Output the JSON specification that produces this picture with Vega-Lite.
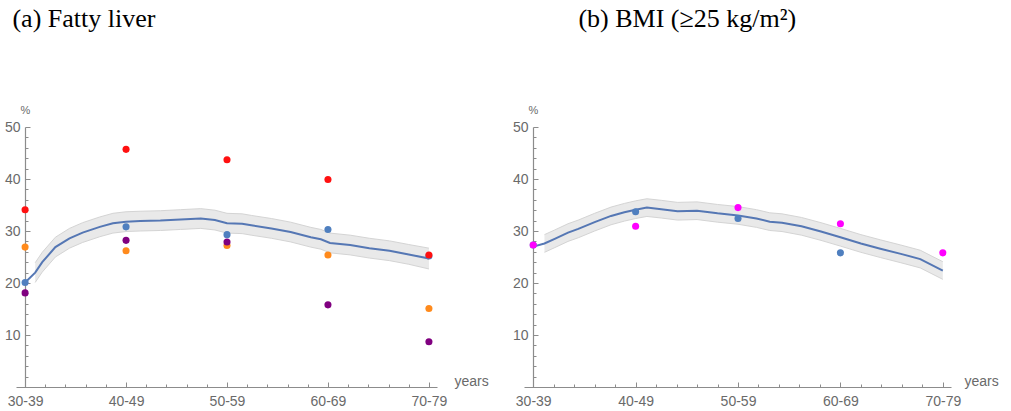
{
  "$schema": "https://vega.github.io/schema/vega-lite/v6.json",
  "background": "white",
  "padding": {"left": 4, "top": 6, "right": 0, "bottom": 0},
  "spacing": 23,
  "datasets": {
    "lineA": [
      {"u": 0, "y": 20.1, "lo": null, "hi": null},
      {"u": 0.1, "y": 22.0, "lo": 20.1, "hi": 23.9},
      {"u": 0.17, "y": 24.0, "lo": 22.1, "hi": 25.9},
      {"u": 0.3, "y": 26.9, "lo": 25.0, "hi": 28.8},
      {"u": 0.44, "y": 28.6, "lo": 26.7, "hi": 30.5},
      {"u": 0.57, "y": 29.7, "lo": 27.8, "hi": 31.6},
      {"u": 0.74, "y": 30.8, "lo": 28.9, "hi": 32.7},
      {"u": 0.87, "y": 31.5, "lo": 29.6, "hi": 33.4},
      {"u": 1.0, "y": 31.8, "lo": 29.9, "hi": 33.7},
      {"u": 1.14, "y": 31.9, "lo": 30.0, "hi": 33.8},
      {"u": 1.34, "y": 32.0, "lo": 30.1, "hi": 33.9},
      {"u": 1.54, "y": 32.2, "lo": 30.3, "hi": 34.1},
      {"u": 1.74, "y": 32.4, "lo": 30.5, "hi": 34.3},
      {"u": 1.88, "y": 32.1, "lo": 30.2, "hi": 34.0},
      {"u": 2.0, "y": 31.5, "lo": 29.6, "hi": 33.4},
      {"u": 2.15, "y": 31.4, "lo": 29.5, "hi": 33.3},
      {"u": 2.24, "y": 31.1, "lo": 29.2, "hi": 33.0},
      {"u": 2.44, "y": 30.5, "lo": 28.6, "hi": 32.4},
      {"u": 2.63, "y": 29.8, "lo": 27.9, "hi": 31.7},
      {"u": 2.83, "y": 28.8, "lo": 26.9, "hi": 30.7},
      {"u": 2.93, "y": 28.4, "lo": 26.5, "hi": 30.3},
      {"u": 3.02, "y": 27.7, "lo": 25.8, "hi": 29.6},
      {"u": 3.22, "y": 27.3, "lo": 25.4, "hi": 29.2},
      {"u": 3.41, "y": 26.7, "lo": 24.8, "hi": 28.6},
      {"u": 3.61, "y": 26.2, "lo": 24.3, "hi": 28.1},
      {"u": 3.8, "y": 25.5, "lo": 23.6, "hi": 27.4},
      {"u": 4.0, "y": 24.7, "lo": 22.7, "hi": 26.7}
    ],
    "pointsA": [
      {"u": 0, "v": 20.1, "s": "model"},
      {"u": 1, "v": 30.8, "s": "model"},
      {"u": 2, "v": 29.3, "s": "model"},
      {"u": 3, "v": 30.3, "s": "model"},
      {"u": 4, "v": 25.2, "s": "model"},
      {"u": 0, "v": 26.9, "s": "A"},
      {"u": 1, "v": 26.2, "s": "A"},
      {"u": 2, "v": 27.2, "s": "A"},
      {"u": 3, "v": 25.4, "s": "A"},
      {"u": 4, "v": 15.1, "s": "A"},
      {"u": 0, "v": 18.1, "s": "B"},
      {"u": 1, "v": 28.2, "s": "B"},
      {"u": 2, "v": 27.9, "s": "B"},
      {"u": 3, "v": 15.8, "s": "B"},
      {"u": 4, "v": 8.7, "s": "B"},
      {"u": 0, "v": 34.1, "s": "C"},
      {"u": 1, "v": 45.7, "s": "C"},
      {"u": 2, "v": 43.7, "s": "C"},
      {"u": 3, "v": 39.9, "s": "C"},
      {"u": 4, "v": 25.4, "s": "C"}
    ],
    "lineB": [
      {"u": 0, "y": 27.0, "lo": null, "hi": null},
      {"u": 0.11, "y": 27.6, "lo": 25.9, "hi": 29.3},
      {"u": 0.21, "y": 28.5, "lo": 26.8, "hi": 30.2},
      {"u": 0.34, "y": 29.7, "lo": 28.0, "hi": 31.4},
      {"u": 0.44, "y": 30.4, "lo": 28.7, "hi": 32.1},
      {"u": 0.6, "y": 31.7, "lo": 30.0, "hi": 33.4},
      {"u": 0.76, "y": 32.9, "lo": 31.2, "hi": 34.6},
      {"u": 0.89, "y": 33.6, "lo": 31.9, "hi": 35.3},
      {"u": 1.0, "y": 34.1, "lo": 32.4, "hi": 35.8},
      {"u": 1.11, "y": 34.5, "lo": 32.8, "hi": 36.2},
      {"u": 1.25, "y": 34.2, "lo": 32.5, "hi": 35.9},
      {"u": 1.41, "y": 33.8, "lo": 32.1, "hi": 35.5},
      {"u": 1.6, "y": 33.9, "lo": 32.2, "hi": 35.6},
      {"u": 1.8, "y": 33.4, "lo": 31.7, "hi": 35.1},
      {"u": 2.0, "y": 33.0, "lo": 31.3, "hi": 34.7},
      {"u": 2.18, "y": 32.4, "lo": 30.7, "hi": 34.1},
      {"u": 2.31, "y": 31.8, "lo": 30.1, "hi": 33.5},
      {"u": 2.43, "y": 31.6, "lo": 29.9, "hi": 33.3},
      {"u": 2.62, "y": 30.9, "lo": 29.2, "hi": 32.6},
      {"u": 2.81, "y": 29.9, "lo": 28.2, "hi": 31.6},
      {"u": 3.0, "y": 28.8, "lo": 27.1, "hi": 30.5},
      {"u": 3.2, "y": 27.6, "lo": 25.9, "hi": 29.3},
      {"u": 3.39, "y": 26.6, "lo": 24.9, "hi": 28.3},
      {"u": 3.59, "y": 25.6, "lo": 23.9, "hi": 27.3},
      {"u": 3.78, "y": 24.6, "lo": 22.9, "hi": 26.3},
      {"u": 4.0, "y": 22.4, "lo": 20.7, "hi": 24.1}
    ],
    "pointsB": [
      {"u": 0, "v": 27.3, "s": "model"},
      {"u": 1, "v": 33.7, "s": "model"},
      {"u": 2, "v": 32.4, "s": "model"},
      {"u": 3, "v": 25.8, "s": "model"},
      {"u": 0, "v": 27.3, "s": "D"},
      {"u": 1, "v": 30.9, "s": "D"},
      {"u": 2, "v": 34.5, "s": "D"},
      {"u": 3, "v": 31.4, "s": "D"},
      {"u": 4, "v": 25.8, "s": "D"}
    ]
  },
  "hconcat": [
    {
      "width": 421,
      "height": 260,
      "title": {"text": "(a) Fatty liver", "anchor": "start", "dx": 8, "offset": 72},
      "layer": [
        {
          "data": {"name": "lineA"},
          "mark": {"type": "area", "color": "#e9e9e9", "opacity": 1},
          "encoding": {
            "x": {"field": "u", "type": "quantitative", "scale": {"domain": [-0.09, 4.08], "nice": false, "zero": false},
                  "axis": {"orient": "bottom", "values": [0.2,0.4,0.6,0.8,1.2,1.4,1.6,1.8,2.2,2.4,2.6,2.8,3.2,3.4,3.6,3.8], "labels": false, "domain": false, "tickSize": -3, "title": null, "grid": false}},
            "y": {"field": "lo", "type": "quantitative", "scale": {"domain": [0, 50], "nice": false},
                  "axis": {"orient": "left", "offset": -9, "values": [2,4,6,8,12,14,16,18,22,24,26,28,32,34,36,38,42,44,46,48], "labels": false, "domain": false, "tickSize": -3, "title": null, "grid": false}},
            "y2": {"field": "hi"}
          }
        },
        {
          "data": {"name": "lineA"},
          "mark": {"type": "line", "color": "#d4d4d4", "strokeWidth": 1},
          "encoding": {"x": {"field": "u", "type": "quantitative", "axis": null}, "y": {"field": "lo", "type": "quantitative", "axis": null}}
        },
        {
          "data": {"name": "lineA"},
          "mark": {"type": "line", "color": "#d4d4d4", "strokeWidth": 1},
          "encoding": {"x": {"field": "u", "type": "quantitative", "axis": null}, "y": {"field": "hi", "type": "quantitative", "axis": null}}
        },
        {
          "data": {"name": "lineA"},
          "mark": {"type": "line", "color": "#5577b4", "strokeWidth": 2},
          "encoding": {
            "x": {"field": "u", "type": "quantitative",
                  "axis": {"orient": "bottom", "values": [0,1,2,3,4], "labelExpr": "['30-39','40-49','50-59','60-69','70-79'][datum.value]", "tickSize": -5, "grid": false, "labelPadding": 12, "labelFlush": false, "labelOverlap": false,
                           "title": "years", "titleX": 438, "titleY": -6, "titleAlign": "left", "titleBaseline": "middle", "titleAnchor": null}},
            "y": {"field": "y", "type": "quantitative",
                  "axis": {"orient": "left", "offset": -9, "values": [10,20,30,40,50], "tickSize": -5, "grid": false, "labelPadding": 10, "labelFlush": false,
                           "title": "%", "titleAngle": 0, "titleX": 0, "titleY": -17, "titleAlign": "center", "titleBaseline": "middle", "titleFontSize": 11}}
          }
        },
        {
          "data": {"name": "pointsA"},
          "mark": {"type": "circle", "size": 50, "opacity": 1},
          "encoding": {
            "x": {"field": "u", "type": "quantitative", "axis": null},
            "y": {"field": "v", "type": "quantitative", "axis": null},
            "color": {"field": "s", "type": "nominal", "legend": null,
                      "scale": {"domain": ["model", "A", "B", "C", "D"], "range": ["#4f7fbf", "#ff8a1c", "#800080", "#ff1010", "#ff00ff"]}}
          }
        }
      ],
      "resolve": {"axis": {"x": "independent", "y": "independent"}}
    },
    {
      "width": 427,
      "height": 260,
      "title": {"text": "(b) BMI (≥25 kg/m²)", "anchor": "start", "dx": 66, "offset": 72},
      "layer": [
        {
          "data": {"name": "lineB"},
          "mark": {"type": "area", "color": "#e9e9e9", "opacity": 1},
          "encoding": {
            "x": {"field": "u", "type": "quantitative", "scale": {"domain": [-0.09, 4.08], "nice": false, "zero": false},
                  "axis": {"orient": "bottom", "values": [0.2,0.4,0.6,0.8,1.2,1.4,1.6,1.8,2.2,2.4,2.6,2.8,3.2,3.4,3.6,3.8], "labels": false, "domain": false, "tickSize": -3, "title": null, "grid": false}},
            "y": {"field": "lo", "type": "quantitative", "scale": {"domain": [0, 50], "nice": false},
                  "axis": {"orient": "left", "offset": -9, "values": [2,4,6,8,12,14,16,18,22,24,26,28,32,34,36,38,42,44,46,48], "labels": false, "domain": false, "tickSize": -3, "title": null, "grid": false}},
            "y2": {"field": "hi"}
          }
        },
        {
          "data": {"name": "lineB"},
          "mark": {"type": "line", "color": "#d4d4d4", "strokeWidth": 1},
          "encoding": {"x": {"field": "u", "type": "quantitative", "axis": null}, "y": {"field": "lo", "type": "quantitative", "axis": null}}
        },
        {
          "data": {"name": "lineB"},
          "mark": {"type": "line", "color": "#d4d4d4", "strokeWidth": 1},
          "encoding": {"x": {"field": "u", "type": "quantitative", "axis": null}, "y": {"field": "hi", "type": "quantitative", "axis": null}}
        },
        {
          "data": {"name": "lineB"},
          "mark": {"type": "line", "color": "#5577b4", "strokeWidth": 2},
          "encoding": {
            "x": {"field": "u", "type": "quantitative",
                  "axis": {"orient": "bottom", "values": [0,1,2,3,4], "labelExpr": "['30-39','40-49','50-59','60-69','70-79'][datum.value]", "tickSize": -5, "grid": false, "labelPadding": 12, "labelFlush": false, "labelOverlap": false,
                           "title": "years", "titleX": 440, "titleY": -6, "titleAlign": "left", "titleBaseline": "middle", "titleAnchor": null}},
            "y": {"field": "y", "type": "quantitative",
                  "axis": {"orient": "left", "offset": -9, "values": [10,20,30,40,50], "tickSize": -5, "grid": false, "labelPadding": 10, "labelFlush": false,
                           "title": "%", "titleAngle": 0, "titleX": 0, "titleY": -17, "titleAlign": "center", "titleBaseline": "middle", "titleFontSize": 11}}
          }
        },
        {
          "data": {"name": "pointsB"},
          "mark": {"type": "circle", "size": 50, "opacity": 1},
          "encoding": {
            "x": {"field": "u", "type": "quantitative", "axis": null},
            "y": {"field": "v", "type": "quantitative", "axis": null},
            "color": {"field": "s", "type": "nominal", "legend": null,
                      "scale": {"domain": ["model", "A", "B", "C", "D"], "range": ["#4f7fbf", "#ff8a1c", "#800080", "#ff1010", "#ff00ff"]}}
          }
        }
      ],
      "resolve": {"axis": {"x": "independent", "y": "independent"}}
    }
  ],
  "config": {
    "view": {"stroke": null},
    "title": {"font": "Liberation Serif", "fontSize": 26, "fontWeight": "normal", "color": "#000000", "baseline": "alphabetic"},
    "axis": {
      "labelFont": "Liberation Sans", "labelFontSize": 14, "labelColor": "#6a6a6a",
      "titleFont": "Liberation Sans", "titleFontSize": 14, "titleFontWeight": "normal", "titleColor": "#6a6a6a",
      "domainColor": "#8c8c8c", "tickColor": "#8c8c8c", "domainWidth": 1.2, "tickWidth": 1
    }
  }
}
